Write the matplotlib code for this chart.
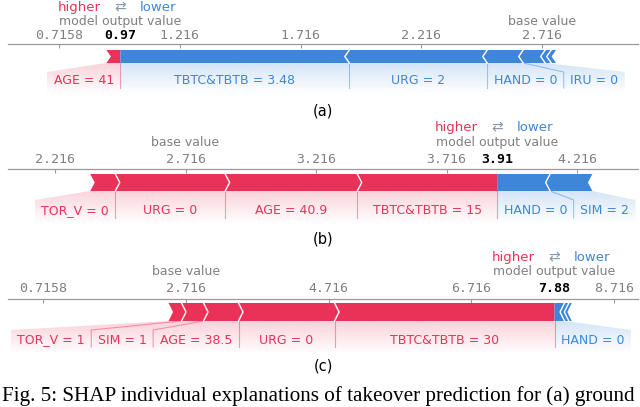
import numpy as np
import matplotlib
matplotlib.use("Agg")
import matplotlib.pyplot as plt
from matplotlib.patches import Polygon
from matplotlib.colors import to_rgb

RED = "#ea3158"
BLUE = "#3d86d8"
GREY = "#808080"
W, H = 640, 407

# panel (a)
a_base = 2.716
a_out = 0.97
a_ticks = [0.7158, 1.216, 1.716, 2.216, 2.716]
a_red_labels = ["AGE = 41"]
a_red_vals = [0.058]
a_blue_labels = ["TBTC&TBTB = 3.48", "URG = 2", "HAND = 0", "IRU = 0", "", ""]
a_blue_vals = [0.948, 0.571, 0.149, 0.091, 0.025, 0.020]

# panel (b)
b_base = 2.716
b_out = 3.91
b_ticks = [2.216, 2.716, 3.216, 3.716, 4.216]
b_red_labels = ["TBTC&TBTB = 15", "AGE = 40.9", "URG = 0", "TOR_V = 0"]
b_red_vals = [0.536, 0.506, 0.421, 0.096]
b_blue_labels = ["HAND = 0", "SIM = 2"]
b_blue_vals = [0.203, 0.162]

# panel (c)
c_base = 2.716
c_out = 7.88
c_ticks = [0.7158, 2.716, 4.716, 6.716, 8.716]
c_red_labels = ["TBTC&TBTB = 30", "URG = 0", "AGE = 38.5", "SIM = 1", "TOR_V = 1"]
c_red_vals = [3.081, 1.345, 0.490, 0.308, 0.182]
c_blue_labels = ["HAND = 0", "", ""]
c_blue_vals = [0.140, 0.060, 0.042]

caption = "Fig. 5: SHAP individual explanations of takeover prediction for (a) ground"

fig = plt.figure(figsize=(W / 100, H / 100), dpi=100)
renderer = fig.canvas.get_renderer()


def zone_fill(ax, pts, color, y0, y1, x0, x1):
    clip = Polygon(pts, closed=True, fc="none", ec="none", transform=ax.transData)
    ax.add_patch(clip)
    rgb = to_rgb(color)
    grad = np.zeros((60, 1, 4))
    grad[:, 0, :3] = rgb
    grad[:, 0, 3] = np.linspace(0.22, 0.0, 60)
    im = ax.imshow(grad, extent=(x0, x1, y1, y0), origin="upper", aspect="auto",
                   interpolation="bilinear", zorder=0)
    im.set_clip_path(clip)


def force_plot(ax, base, out, ticks, red_labels, red_vals, blue_labels, blue_vals,
               xlim, geo, tick_pad, row1, row2):
    top, bot, slope, lab, fade = geo
    mid = (top + bot) / 2
    ax.set_xlim(xlim)
    ax.set_ylim(fade, 0)
    ax.set_autoscale_on(False)
    for s in ["left", "right", "bottom"]:
        ax.spines[s].set_visible(False)
    ax.spines["top"].set_color("#9a9a9a")
    ax.spines["top"].set_linewidth(0.9)
    ax.set_yticks([])
    ax.xaxis.tick_top()
    ax.set_xticks(ticks, labels=[str(t) for t in ticks])
    ax.tick_params(axis="x", direction="in", length=3, color="#9a9a9a",
                   labelcolor=GREY, labelsize=9.5, pad=tick_pad)
    for t in ax.get_xticklabels():
        t.set_family("DejaVu Sans Mono")
    ax.patch.set_alpha(0)

    per_px = (xlim[1] - xlim[0]) / ax.get_window_extent(renderer).width
    tip = 4.5 * per_px
    pad = 13 * per_px

    # positive (red) features, from output value leftwards
    edges = out - np.concatenate([[0], np.cumsum(red_vals)])
    prev = out
    for i, name in enumerate(red_labels):
        a, b = edges[i + 1], edges[i]
        right = [(b, top), (b, bot)] if i == 0 else [(b, top), (b + tip, mid), (b, bot)]
        pts = [(a, top)] + right + [(a, bot), (a + tip, mid)]
        ax.add_patch(Polygon(pts, closed=True, fc=RED, ec="none", zorder=2))
        if i > 0:
            ax.plot([b, b + tip, b], [top, mid, bot], color="white", lw=1, zorder=3)
        if name:
            t = ax.text(0, lab, name, ha="center", va="center", color=RED, fontsize=9, zorder=4)
            w = t.get_window_extent(renderer).width * per_px + pad
            zr = min(b, prev)
            zl = min(a, zr - w)
            t.set_x((zl + zr) / 2)
            zone_fill(ax, [(a, bot), (b, bot), (zr, slope), (zr, fade), (zl, fade), (zl, slope)],
                      RED, bot, fade, min(a, zl), max(b, zr))
            ax.plot([b, zr, zr], [bot, slope, lab + 7], color=RED, alpha=0.45, lw=0.8, zorder=1)
            prev = zl

    # negative (blue) features, from output value rightwards
    edges = out + np.concatenate([[0], np.cumsum(blue_vals)])
    prev = out
    for j, name in enumerate(blue_labels):
        a, b = edges[j], edges[j + 1]
        pts = [(a, top), (b, top), (b - tip, mid), (b, bot), (a, bot)]
        if j > 0:
            pts.append((a - tip, mid))
        ax.add_patch(Polygon(pts, closed=True, fc=BLUE, ec="none", zorder=2))
        if j > 0:
            ax.plot([a, a - tip, a], [top, mid, bot], color="white", lw=1, zorder=3)
        if name:
            t = ax.text(0, lab, name, ha="center", va="center", color=BLUE, fontsize=9, zorder=4)
            w = t.get_window_extent(renderer).width * per_px + pad
            zl = max(a, prev)
            zr = max(b, zl + w)
            t.set_x((zl + zr) / 2)
            zone_fill(ax, [(a, bot), (b, bot), (zr, slope), (zr, fade), (zl, fade), (zl, slope)],
                      BLUE, bot, fade, min(a, zl), max(b, zr))
            if j > 0:
                ax.plot([a, zl, zl], [bot, slope, lab + 7], color=BLUE, alpha=0.45, lw=0.8, zorder=1)
            prev = zr

    # output / base value annotations
    ax.annotate(f"{out:.2f}", xy=(out, 1), xycoords=("data", "axes fraction"),
                xytext=(0, tick_pad), textcoords="offset points", ha="center", va="bottom",
                fontsize=9.5, fontweight="bold", family="DejaVu Sans Mono", color="black")
    ax.annotate("model output value", xy=(out, 1), xycoords=("data", "axes fraction"),
                xytext=(0, row1), textcoords="offset points", ha="center", va="center",
                fontsize=9, color=GREY)
    ax.annotate("base value", xy=(base, 1), xycoords=("data", "axes fraction"),
                xytext=(0, row1), textcoords="offset points", ha="center", va="center",
                fontsize=9, color=GREY)
    ax.annotate("higher", xy=(out, 1), xycoords=("data", "axes fraction"),
                xytext=(-14, row2), textcoords="offset points", ha="right", va="center",
                fontsize=9.5, color=RED)
    ax.annotate("\u21c4", xy=(out, 1), xycoords=("data", "axes fraction"),
                xytext=(0, row2), textcoords="offset points", ha="center", va="center",
                fontsize=10, color="#8796ab")
    ax.annotate("lower", xy=(out, 1), xycoords=("data", "axes fraction"),
                xytext=(14, row2), textcoords="offset points", ha="left", va="center",
                fontsize=9.5, color=BLUE)


def make_axes(axis_y, height):
    return fig.add_axes([8 / W, (H - axis_y - height) / H, 630 / W, height / H])


ax_a = make_axes(44, 50)
force_plot(ax_a, a_base, a_out, a_ticks, a_red_labels, a_red_vals, a_blue_labels, a_blue_vals,
           (0.5046, 3.1133), (6, 19, 28, 37, 50), 1.5, 16, 26)

ax_b = make_axes(169, 55)
force_plot(ax_b, b_base, b_out, b_ticks, b_red_labels, b_red_vals, b_blue_labels, b_blue_vals,
           (2.0359, 4.4497), (5, 22, 31, 42, 55), 2.2, 19, 30)

ax_c = make_axes(299, 55)
force_plot(ax_c, c_base, c_out, c_ticks, c_red_labels, c_red_vals, c_blue_labels, c_blue_vals,
           (0.2256, 9.049), (4, 22, 31, 41, 55), 3, 19.5, 30)

for lbl, y in [("(a)", 111), ("(b)", 239), ("(c)", 366)]:
    fig.text(323 / W, 1 - y / H, lbl, ha="center", va="center", fontsize=10.5)

# caption, sized to run across the full width
cap = fig.text(2 / W, 1 / H, caption, family="Liberation Serif", fontsize=13, va="bottom")
for _ in range(4):
    cw = cap.get_window_extent(renderer).width
    cap.set_fontsize(cap.get_fontsize() * 634 / cw)

fig.savefig("out.png", dpi=100)
